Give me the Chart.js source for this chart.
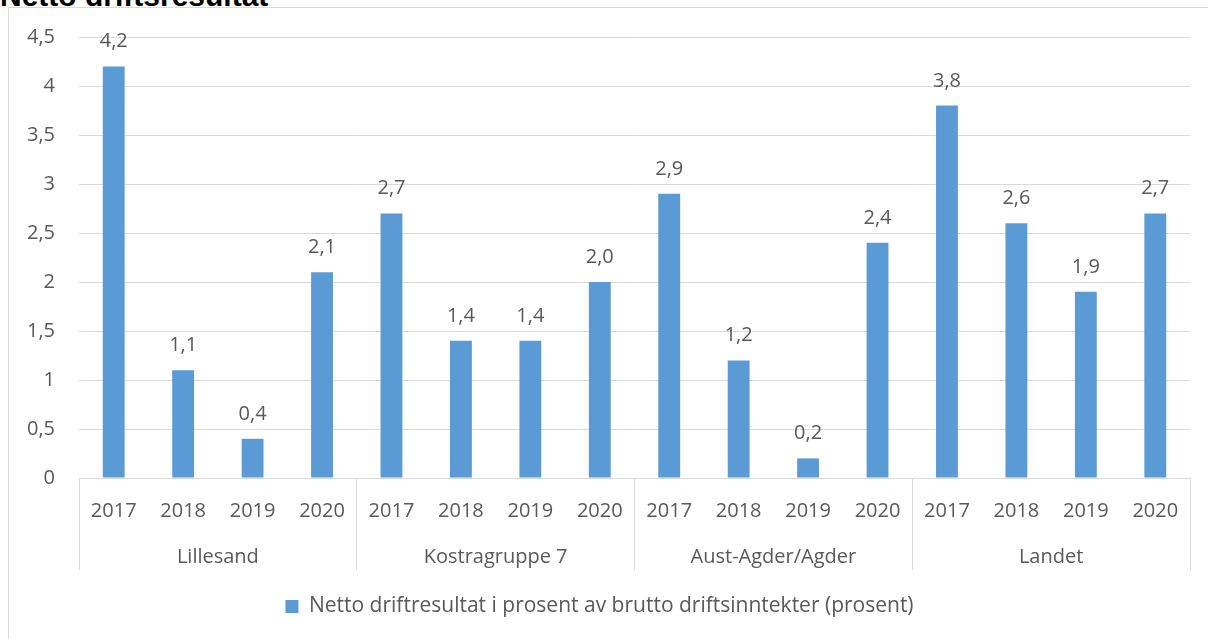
<!DOCTYPE html>
<html>
<head>
<meta charset="utf-8">
<script src="https://cdn.jsdelivr.net/npm/chart.js@4/dist/chart.umd.min.js"></script>
<style>
    html, body { margin: 0; padding: 0; background: #fff; overflow: hidden; }
    #title { position: absolute; left: 0; top: -19px; font: bold 30px/30px "Liberation Sans", Arial, sans-serif; color: #000; white-space: nowrap; }
    #frame { position: absolute; left: 8px; top: 7px; width: 1210px; height: 640px; border-left: 1px solid #d9d9d9; border-top: 1px solid #d9d9d9; }
    #wrap { position: absolute; left: 0; top: 0; width: 1199px; height: 631px; }
</style>
</head>
<body>
<div id="title">Netto driftsresultat</div>
<div id="frame"><div id="wrap"><canvas id="chart"></canvas></div></div>
<script>
// ============================================
// Netto driftsresultat
// ============================================

const years = ['2017', '2018', '2019', '2020'];
const groups = ['Lillesand', 'Kostragruppe 7', 'Aust-Agder/Agder', 'Landet'];
const lillesand = [4.2, 1.1, 0.4, 2.1];
const kostra7 = [2.7, 1.4, 1.4, 2.0];
const agder = [2.9, 1.2, 0.2, 2.4];
const landet = [3.8, 2.6, 1.9, 2.7];
const seriesName = 'Netto driftresultat i prosent av brutto driftsinntekter (prosent)';

const barColor = '#5b9bd5';
const textColor = '#595959';
const lineColor = '#d9d9d9';
const fontFamily = '"Open Sans", sans-serif';

const labels = [];
groups.forEach(() => years.forEach(y => labels.push(y)));
const values = [].concat(lillesand, kostra7, agder, landet);

const fmt = v => v.toFixed(1).replace('.', ',');

// value labels above each bar
const valueLabels = {
    id: 'valueLabels',
    afterDatasetsDraw(chart) {
        const ctx = chart.ctx;
        ctx.save();
        ctx.fillStyle = textColor;
        ctx.font = '20px ' + fontFamily;
        ctx.textAlign = 'center';
        ctx.textBaseline = 'alphabetic';
        chart.getDatasetMeta(0).data.forEach((bar, i) => {
            ctx.fillText(fmt(values[i]), bar.x, bar.y - 19);
        });
        ctx.restore();
    }
};

new Chart(document.getElementById('chart'), {
    type: 'bar',
    data: {
        labels: labels,
        datasets: [{
            label: seriesName,
            data: values,
            backgroundColor: barColor,
            categoryPercentage: 1,
            barPercentage: 0.315
        }]
    },
    plugins: [valueLabels],
    options: {
        responsive: true,
        maintainAspectRatio: false,
        animation: false,
        layout: { padding: { top: 29, right: 18, bottom: 12, left: 0 } },
        plugins: {
            legend: {
                position: 'bottom',
                labels: {
                    color: textColor,
                    font: { family: fontFamily, size: 21 },
                    boxWidth: 13,
                    boxHeight: 13,
                    padding: 10
                }
            },
            tooltip: { enabled: false }
        },
        scales: {
            y: {
                min: 0,
                max: 4.5,
                afterFit: s => { s.width = 70; s.paddingTop = 0; s.paddingBottom = 0; },
                ticks: {
                    stepSize: 0.5,
                    color: textColor,
                    padding: 24,
                    font: { family: fontFamily, size: 20 },
                    callback: v => String(v).replace('.', ',')
                },
                grid: { color: lineColor, drawTicks: false },
                border: { display: false }
            },
            x: {
                offset: true,
                afterFit: s => { s.height = 44; s.paddingLeft = 0; s.paddingRight = 0; },
                ticks: {
                    color: textColor,
                    padding: -23,
                    maxRotation: 0,
                    autoSkip: false,
                    font: { family: fontFamily, size: 20 }
                },
                grid: {
                    offset: true,
                    drawOnChartArea: false,
                    tickLength: 44,
                    color: c => (c.index === undefined || c.index % 4 === 0) ? lineColor : 'rgba(0,0,0,0)'
                },
                border: { color: lineColor }
            },
            x2: {
                type: 'category',
                labels: groups,
                position: 'bottom',
                offset: true,
                afterFit: s => { s.height = 64; s.paddingLeft = 0; s.paddingRight = 0; },
                ticks: {
                    color: textColor,
                    padding: -25,
                    maxRotation: 0,
                    font: { family: fontFamily, size: 20 }
                },
                grid: {
                    offset: true,
                    drawOnChartArea: false,
                    tickLength: 48,
                    color: lineColor
                },
                border: { display: false }
            }
        }
    }
});
</script>
</body>
</html>
